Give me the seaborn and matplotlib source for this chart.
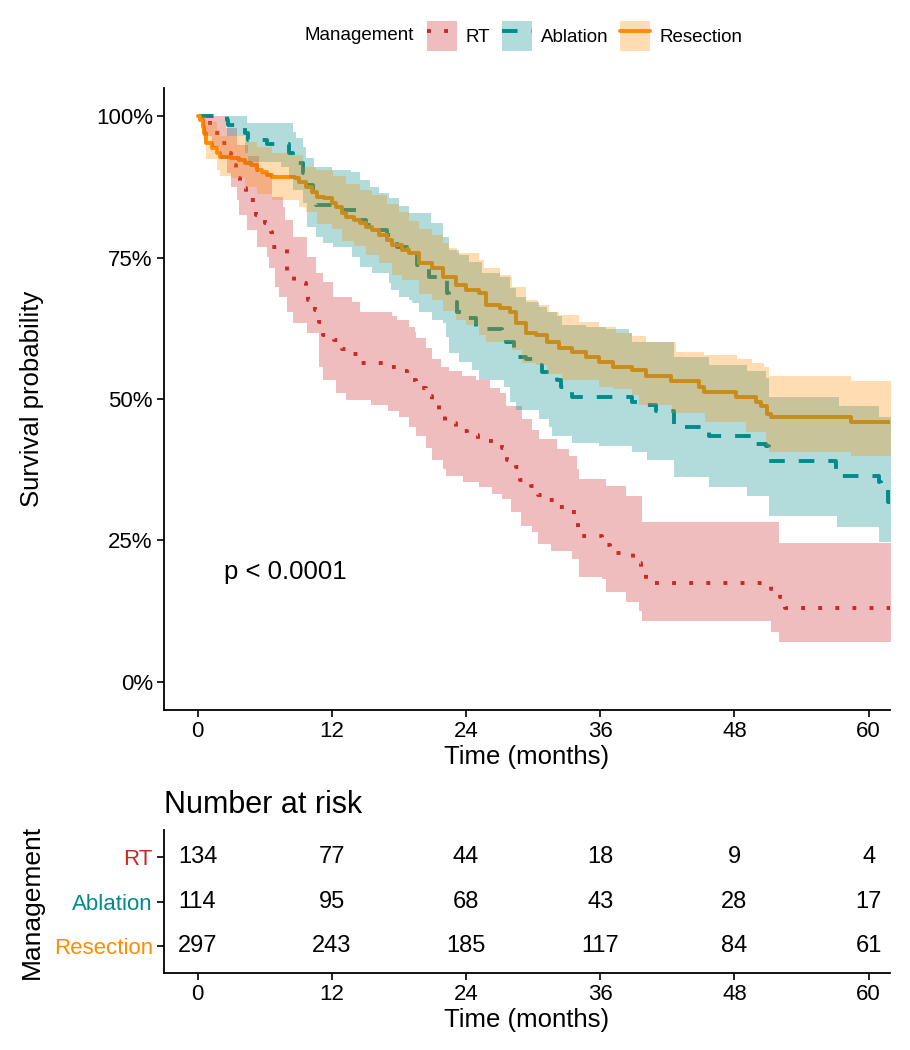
import numpy as np
import pandas as pd
import seaborn as sns
import matplotlib.pyplot as plt
from matplotlib.patches import Patch
from matplotlib.lines import Line2D

sns.set_theme(style="ticks")
plt.rcParams['font.family'] = ['Liberation Sans', 'DejaVu Sans']
plt.rcParams['text.color'] = 'black'
plt.rcParams['axes.labelcolor'] = 'black'

# ---- data (months, survival) ----
groups = ["RT", "Ablation", "Resection"]
colors = ["#CD2626", "#008B8B", "#FF8C00"]

rt_t = [0, 0.45, 1.3, 2.0, 2.6, 3.0, 3.4, 3.8, 4.3, 5.2, 6.0, 6.6, 6.7, 8.0, 8.6, 9.7, 9.9, 10.5, 10.9, 11.2,
        12.2, 12.9, 13.8, 14.6, 17.1, 18.0, 18.75, 19.55, 20.4, 21.0, 21.6, 22.1, 23.1, 24.1, 25.1, 27.2, 27.7,
        28.5, 28.8, 29.8, 30.4, 31.4, 32.2, 33.2, 33.8, 34.0, 36.2, 36.9, 38.9, 39.6, 40.1, 51.3, 52.1, 52.5]
rt_s = [1.0, .988, .970, .952, .935, .914, .891, .873, .852, .825, .811, .795, .769, .725, .705, .698, .675, .658,
        .637, .614, .605, .589, .580, .564, .557, .549, .533, .520, .506, .490, .474, .457, .444, .436, .425, .413,
        .392, .379, .356, .346, .330, .321, .309, .300, .282, .257, .242, .228, .210, .192, .175, .164, .150, .130]
rt_hi_t = [0, 2.5, 3.5, 4.5, 5.5, 6.7, 7.6, 7.8, 8.5, 9.8, 10.6, 11.2, 12.1, 13.8, 14.5, 17.4, 17.8, 18.9, 19.4,
           19.55, 20.4, 21.0, 21.8, 22.5, 23.6, 24.9, 26.1, 27.0, 27.6, 29.0, 29.9, 30.5, 32.1, 33.2, 33.9, 34.1,
           36.5, 38.3, 39.7, 52.0]
rt_hi = [1.0, 0.98, 0.95, 0.93, 0.90, 0.857, 0.840, 0.817, 0.787, 0.751, 0.723, 0.707, 0.681, 0.672, 0.653,
         0.646, 0.640, 0.628, 0.619, 0.608, 0.591, 0.570, 0.557, 0.549, 0.540, 0.534, 0.520, 0.511, 0.487, 0.464,
         0.446, 0.429, 0.411, 0.399, 0.376, 0.358, 0.346, 0.328, 0.282, 0.245]
rt_lo_t = [0, 0.45, 1.3, 2.0, 2.6, 3.0, 3.5, 3.75, 4.4, 5.3, 6.25, 6.4, 6.9, 7.3, 8.0, 8.5, 9.8, 10.9, 11.2, 12.4,
           13.3, 15.5, 17.0, 18.0, 18.9, 19.55, 20.4, 21.0, 21.9, 22.2, 23.7, 25.2, 26.3, 27.2, 28.0, 28.9, 29.9,
           30.4, 31.6, 33.5, 34.1, 36.2, 36.5, 38.3, 39.5, 39.7, 51.3, 52.0]
rt_lo = [1.0, .965, .945, .925, .899, .875, .852, .825, .799, .769, .751, .732, .698, .681, .653, .635, .617, .557,
         .534, .511, .499, .49, .478, .469, .451, .434, .414, .393, .376, .363, .354, .344, .332, .323, .300, .275,
         .265, .243, .231, .217, .185, .182, .159, .141, .125, .108, .088, .071]

ab_t = [0, 2.6, 2.7, 4.2, 4.5, 6.2, 8.2, 8.5, 9.4, 9.7, 10.3, 10.6, 12.1, 14.3, 15.1, 16.1, 16.9, 17.8, 18.7, 19.6,
        20.7, 22.3, 22.5, 23.2, 24.0, 24.9, 27.2, 27.6, 28.3, 29.4, 30.5, 30.8, 32.1, 32.5, 33.5, 37.7, 38.8, 40.1,
        41.0, 42.6, 45.7, 49.6, 50.8, 51.1, 57.1, 57.3, 60.9, 61.1, 61.7]
ab_s = [1.0, .993, .984, .970, .958, .951, .935, .917, .899, .878, .857, .843, .834, .817, .808, .799, .790, .769,
        .764, .737, .716, .688, .672, .653, .644, .623, .614, .601, .575, .570, .561, .548, .534, .522, .504, .503,
        .494, .490, .478, .451, .434, .420, .416, .390, .372, .363, .353, .340, .317]
ab_hi_t = [0, 4.4, 8.5, 8.8, 9.4, 9.7, 10.4, 12.0, 13.75, 14.5, 15.4, 16.25, 17.1, 18.0, 18.9, 20.9, 21.9, 22.5,
           23.4, 24.3, 25.4, 27.0, 27.9, 28.5, 29.4, 30.5, 31.2, 32.1, 32.6, 34.7, 36.5, 38.6, 38.8, 42.6, 45.7,
           49.1, 50.8, 51.1, 57.3, 60.9]
ab_hi = [1.0, .988, .972, .961, .945, .926, .910, .905, .901, .887, .875, .864, .855, .842, .829, .811, .787, .764,
         .755, .743, .723, .716, .697, .681, .672, .663, .653, .646, .631, .628, .623, .617, .600, .575, .561, .549,
         .538, .504, .487, .469]
ab_lo_t = [0, 2.6, 4.2, 4.5, 7.5, 8.2, 8.5, 9.4, 9.8, 10.6, 11.2, 12.1, 13.8, 14.5, 15.6, 17.1, 17.3, 18.0, 18.9,
           19.2, 19.8, 21.0, 21.9, 22.2, 22.5, 23.4, 24.5, 25.2, 27.4, 27.9, 28.5, 30.5, 31.4, 31.7, 33.5, 35.9,
           38.8, 40.2, 42.6, 45.7, 49.1, 51.1, 57.2, 60.9]
ab_lo = [1.0, .965, .935, .92, .91, .89, .87, .847, .804, .787, .776, .769, .751, .734, .723, .705, .693, .681,
         .675, .670, .653, .640, .635, .610, .582, .566, .552, .534, .522, .494, .481, .464, .451, .434, .423, .416,
         .406, .393, .362, .344, .328, .293, .273, .247]

rs_t = [0, 0.2, 0.45, 0.6, 0.8, 1.25, 1.7, 2.0, 3.0, 3.75, 4.2, 4.8, 5.3, 5.8, 6.25, 6.7, 8.7, 9.1, 9.7, 10.2,
        10.7, 11.3, 12.0, 12.4, 12.9, 13.3, 14.0, 14.5, 15.1, 15.6, 16.25, 16.9, 17.4, 18.3, 18.9, 19.8, 21.0,
        21.9, 23.1, 24.0, 25.2, 25.8, 27.0, 27.9, 28.5, 29.4, 30.3, 31.2, 32.3, 33.5, 34.7, 35.9, 37.1, 38.8,
        40.1, 42.3, 44.8, 45.3, 48.1, 49.9, 50.4, 50.9, 51.25, 58.4]
rs_s = [1.0, .993, .981, .970, .952, .944, .935, .928, .926, .922, .917, .914, .905, .901, .896, .893, .891, .884,
        .875, .866, .857, .855, .847, .840, .829, .822, .817, .811, .804, .799, .790, .781, .772, .764, .758, .741,
        .732, .716, .702, .693, .688, .667, .661, .654, .635, .617, .614, .600, .591, .584, .575, .566, .557, .552,
        .540, .531, .522, .513, .503, .494, .487, .473, .469, .460]
rs_hi_t = [0, 0.8, 1.7, 2.0, 4.2, 5.3, 6.7, 8.2, 9.4, 10.6, 12.1, 13.3, 14.5, 15.6, 16.9, 18.0, 18.9, 19.8, 21.0,
           21.9, 22.5, 23.2, 25.2, 25.6, 27.0, 28.0, 28.1, 29.4, 30.4, 31.4, 32.3, 34.1, 35.9, 37.4, 38.8, 40.1,
           42.8, 45.3, 48.2, 49.6, 50.6, 51.1, 58.4]
rs_hi = [1.0, 0.99, 0.975, 0.965, 0.955, 0.945, 0.935, 0.931, 0.910, 0.905, 0.895, 0.88, 0.87, 0.86, 0.845, 0.83,
         0.815, 0.80, 0.79, 0.776, 0.767, 0.758, 0.746, 0.732, 0.720, 0.716, 0.698, 0.675, 0.667, 0.654, 0.649,
         0.637, 0.628, 0.617, 0.612, 0.601, 0.584, 0.577, 0.570, 0.564, 0.556, 0.540, 0.531]
rs_lo_t = [0, 0.45, 0.8, 1.7, 2.0, 3.0, 4.2, 5.3, 6.7, 9.1, 9.7, 10.7, 12.0, 12.9, 14.0, 15.1, 16.25, 17.4, 18.3,
           19.8, 21.0, 21.9, 23.1, 24.0, 25.2, 25.8, 28.1, 29.0, 30.3, 31.2, 32.6, 35.9, 37.1, 38.8, 39.5, 42.4,
           45.4, 49.0, 50.8, 51.1, 58.4]
rs_lo = [1.0, 0.96, 0.925, 0.905, 0.895, 0.89, 0.875, 0.862, 0.852, 0.84, 0.83, 0.81, 0.80, 0.78, 0.77, 0.755,
         0.74, 0.72, 0.71, 0.685, 0.675, 0.656, 0.64, 0.63, 0.614, 0.60, 0.587, 0.564, 0.56, 0.545, 0.534, 0.522,
         0.517, 0.507, 0.49, 0.476, 0.459, 0.441, 0.416, 0.407, 0.399]

# number at risk
risk_times = [0, 12, 24, 36, 48, 60]
risk_rt = [134, 77, 44, 18, 9, 4]
risk_ab = [114, 95, 68, 43, 28, 17]
risk_rs = [297, 243, 185, 117, 84, 61]

curves = [(rt_t, rt_s, rt_lo_t, rt_lo, rt_hi_t, rt_hi),
          (ab_t, ab_s, ab_lo_t, ab_lo, ab_hi_t, ab_hi),
          (rs_t, rs_s, rs_lo_t, rs_lo, rs_hi_t, rs_hi)]
styles = [(0, (1, 3.4)), (0, (4, 3.6)), "-"]
END = 63.0


def step_at(t, v, grid):
    idx = np.searchsorted(np.asarray(t), grid, side="right") - 1
    return np.asarray(v)[idx]


fig = plt.figure(figsize=(9.1, 10.5), dpi=100)
ax = fig.add_axes([0.1802, 0.3238, 0.7978, 0.5924])
ax2 = fig.add_axes([0.1802, 0.0733, 0.7978, 0.1362])

for (t, s, lt, lo, ht, hi), g, c, ls in zip(curves, groups, colors, styles):
    df = pd.DataFrame({"time": t + [END], "surv": s + [s[-1]]})
    sns.lineplot(data=df, x="time", y="surv", ax=ax, color=c, linestyle=ls, lw=2.8,
                 drawstyle="steps-post", estimator=None, sort=False, legend=False, zorder=2)
    grid = np.unique(np.concatenate([lt, ht, [END]]))
    ax.fill_between(grid, step_at(lt, lo, grid), step_at(ht, hi, grid), step="post",
                    color=c, alpha=0.3, lw=0, zorder=3)

ax.set_xlim(-3.0, 61.9)
ax.set_ylim(-0.05, 1.05)
ax.set_xticks(risk_times)
ax.set_yticks([0, 0.25, 0.5, 0.75, 1.0])
ax.set_yticklabels(["0%", "25%", "50%", "75%", "100%"])
ax.set_xlabel("Time (months)", fontsize=18.5, labelpad=2)
ax.set_ylabel("Survival probability", fontsize=18.5)
ax.yaxis.set_label_coords(-0.165, 0.5)
ax.text(2.4, 0.194, "p < 0.0001", fontsize=18.5, ha="left", va="center", color="black")

# risk table
row_y = {"RT": 3, "Ablation": 2, "Resection": 1}
for g, vals in zip(groups, [risk_rt, risk_ab, risk_rs]):
    for tm, v in zip(risk_times, vals):
        ax2.text(tm, row_y[g], str(v), ha="center", va="center", fontsize=17, color="black")
ax2.set_xlim(-3.0, 61.9)
ax2.set_ylim(0.4, 3.6)
ax2.set_xticks(risk_times)
ax2.set_yticks([3, 2, 1])
ax2.set_yticklabels(groups)
ax2.set_xlabel("Time (months)", fontsize=18.5, labelpad=2)
ax2.set_ylabel("Management", fontsize=19)
ax2.yaxis.set_label_coords(-0.165, 0.5)
ax2.set_title("Number at risk", loc="left", fontsize=22, pad=12, color="black")

for a in (ax, ax2):
    sns.despine(ax=a)
    for sp in ("left", "bottom"):
        a.spines[sp].set_color("black")
        a.spines[sp].set_linewidth(1.3)
    a.tick_params(axis="both", direction="out", length=5, width=1.2, color="black",
                  labelcolor="black", labelsize=16, pad=3)
for lab, c in zip(ax2.get_yticklabels(), colors):
    lab.set_color(c)

# legend on top
handles = [(Patch(facecolor=c, alpha=0.3, lw=0), Line2D([], [], color=c, ls=ls, lw=2.8))
           for c, ls in zip(colors, styles)]
fig.text(305 / 910, 1 - 36 / 1050, "Management", fontsize=13.5, ha="left", va="center", color="black")
fig.legend(handles, groups, loc="center left", bbox_to_anchor=(419 / 910, 1 - 36 / 1050),
           ncol=3, frameon=False, fontsize=13.5, handlelength=1.6, handleheight=2.1,
           handletextpad=0.5, columnspacing=0.6, borderaxespad=0, labelcolor="black")

fig.savefig("out.png", dpi=100)
